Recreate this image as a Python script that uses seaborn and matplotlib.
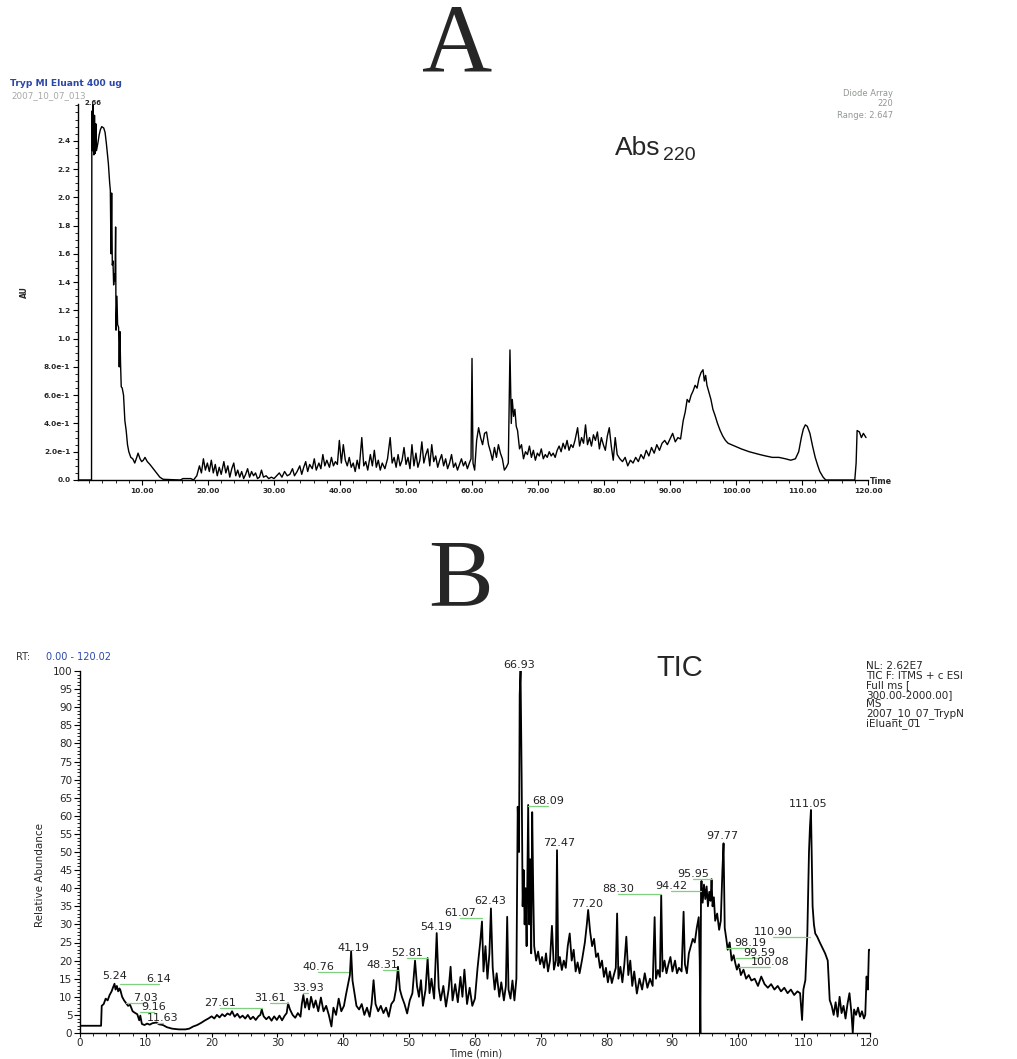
import matplotlib
matplotlib.use("Agg")
import numpy as np
import pandas as pd
import matplotlib.pyplot as plt
import seaborn as sns
from matplotlib.ticker import MultipleLocator, FixedLocator, FixedFormatter

# ---------------- data: UV trace (Abs 220) ----------------
a_time = [0.3, 2.35, 2.4, 2.5, 2.6, 2.7, 2.8, 2.9, 3.0, 3.1, 3.3, 3.5, 3.7, 3.9, 4.2, 4.4, 4.6, 4.9,
          5.1, 5.2, 5.3, 5.4, 5.5, 5.6, 5.7, 5.8, 5.9, 6.0, 6.06, 6.2, 6.3, 6.45, 6.55, 6.65, 6.75,
          6.85, 7.0, 7.2, 7.4, 7.6, 7.8, 8.0, 8.3, 8.6, 8.9, 9.2, 9.4, 9.7, 9.95, 10.2, 10.45, 10.8,
          11.2, 11.7, 12.2, 12.7, 13.2, 15.8, 16.2, 17.4, 17.8, 18.3, 18.7, 19.0, 19.3, 19.6, 19.9,
          20.2, 20.5, 20.8, 21.1, 21.4, 21.7, 22.0, 22.4, 22.7, 23.0, 23.3, 23.6, 23.9, 24.2, 24.5,
          24.8, 25.1, 25.4, 25.7, 26.0, 26.3, 26.6, 26.9, 27.2, 27.5, 27.8, 28.1, 28.4, 28.8, 29.2,
          29.6, 30.0, 30.4, 30.8, 31.2, 31.6, 32.0, 32.4, 32.8, 33.1, 33.5, 33.9, 34.2, 34.5, 34.8,
          35.1, 35.4, 35.8, 36.1, 36.4, 36.8, 37.1, 37.4, 37.7, 38.0, 38.4, 38.7, 39.0, 39.3, 39.6,
          39.9, 40.2, 40.5, 40.8, 41.1, 41.4, 41.7, 42.0, 42.3, 42.6, 42.9, 43.3, 43.6, 43.9, 44.2,
          44.6, 44.9, 45.2, 45.5, 45.8, 46.1, 46.4, 46.8, 47.2, 47.6, 47.9, 48.2, 48.5, 48.8, 49.1,
          49.4, 49.7, 50.0, 50.3, 50.6, 50.9, 51.2, 51.5, 51.8, 52.1, 52.4, 52.7, 53.0, 53.3, 53.6,
          53.9, 54.2, 54.5, 54.8, 55.1, 55.4, 55.7, 56.0, 56.3, 56.6, 56.9, 57.2, 57.5, 57.8, 58.1,
          58.4, 58.7, 59.0, 59.3, 59.6, 59.85, 60.0, 60.15, 60.4, 60.7, 61.0, 61.3, 61.6, 61.9, 62.2,
          62.5, 62.8, 63.1, 63.4, 63.7, 64.0, 64.3, 64.6, 64.9, 65.2, 65.5, 65.75, 65.95, 66.1, 66.3,
          66.5, 66.7, 66.9, 67.2, 67.5, 67.8, 68.1, 68.4, 68.7, 69.0, 69.3, 69.6, 69.9, 70.2, 70.5,
          70.8, 71.1, 71.4, 71.7, 72.0, 72.3, 72.6, 72.9, 73.2, 73.5, 73.8, 74.1, 74.4, 74.7, 75.0,
          75.3, 75.6, 76.0, 76.3, 76.6, 76.9, 77.2, 77.5, 77.8, 78.1, 78.4, 78.7, 79.0, 79.3, 79.6,
          79.9, 80.2, 80.5, 80.8, 81.1, 81.4, 81.7, 82.0, 82.4, 82.8, 83.2, 83.6, 84.0, 84.4, 84.8,
          85.2, 85.6, 86.0, 86.4, 86.8, 87.2, 87.6, 88.0, 88.4, 88.8, 89.2, 89.6, 90.0, 90.4, 90.8,
          91.2, 91.6, 92.0, 92.3, 92.6, 92.9, 93.2, 93.5, 93.8, 94.1, 94.4, 94.7, 95.0, 95.2, 95.4,
          95.6, 95.9, 96.2, 96.5, 96.8, 97.2, 97.6, 98.0, 98.4, 98.8, 99.3, 99.8, 100.3, 100.8,
          101.4, 102.0, 102.8, 103.6, 104.5, 105.5, 106.5, 107.5, 108.3, 109.0, 109.5, 109.9, 110.2,
          110.5, 110.8, 111.2, 111.6, 112.0, 112.4, 112.7, 113.2, 113.6, 118.0, 118.2, 118.35, 118.7,
          119.0, 119.3, 119.7]
a_abs = [0.0, 0.0, 2.61, 2.33, 2.66, 2.30, 2.58, 2.31, 2.52, 2.33, 2.38, 2.44, 2.48, 2.50, 2.49, 2.46,
         2.38, 2.24, 2.10, 2.05, 1.60, 2.03, 1.52, 1.55, 1.38, 1.46, 1.41, 1.79, 1.06, 1.30, 1.10,
         1.08, 0.80, 1.05, 0.82, 0.66, 0.65, 0.60, 0.42, 0.35, 0.25, 0.20, 0.16, 0.15, 0.12, 0.16,
         0.19, 0.15, 0.13, 0.14, 0.16, 0.13, 0.11, 0.08, 0.05, 0.02, 0.005, 0.0, 0.01, 0.01, 0.0,
         0.03, 0.10, 0.05, 0.15, 0.07, 0.12, 0.06, 0.14, 0.05, 0.11, 0.03, 0.09, 0.04, 0.13, 0.05,
         0.10, 0.02, 0.08, 0.12, 0.03, 0.07, 0.02, 0.06, 0.01, 0.04, 0.08, 0.02, 0.06, 0.03, 0.05,
         0.01, 0.02, 0.07, 0.02, 0.03, 0.01, 0.02, 0.01, 0.03, 0.05, 0.02, 0.06, 0.03, 0.04, 0.08,
         0.03, 0.06, 0.10, 0.04, 0.09, 0.13, 0.06, 0.11, 0.08, 0.15, 0.07, 0.12, 0.08, 0.18, 0.10,
         0.14, 0.09, 0.16, 0.10, 0.13, 0.11, 0.28, 0.12, 0.25, 0.14, 0.10, 0.16, 0.09, 0.12, 0.06,
         0.14, 0.08, 0.30, 0.10, 0.13, 0.07, 0.18, 0.10, 0.21, 0.09, 0.14, 0.07, 0.12, 0.08, 0.15,
         0.30, 0.12, 0.16, 0.09, 0.18, 0.10, 0.14, 0.23, 0.11, 0.16, 0.08, 0.25, 0.10, 0.19, 0.09,
         0.14, 0.27, 0.12, 0.18, 0.22, 0.10, 0.25, 0.13, 0.17, 0.09, 0.14, 0.18, 0.10, 0.15, 0.08,
         0.12, 0.18, 0.09, 0.12, 0.07, 0.11, 0.15, 0.10, 0.13, 0.08, 0.12, 0.15, 0.86, 0.12, 0.07,
         0.28, 0.37, 0.30, 0.25, 0.33, 0.34, 0.25, 0.20, 0.14, 0.23, 0.16, 0.25, 0.19, 0.15, 0.07,
         0.09, 0.12, 0.92, 0.40, 0.57, 0.45, 0.50, 0.38, 0.35, 0.22, 0.25, 0.15, 0.20, 0.18, 0.24,
         0.16, 0.21, 0.14, 0.19, 0.17, 0.22, 0.15, 0.18, 0.16, 0.20, 0.17, 0.19, 0.16, 0.21, 0.24,
         0.20, 0.26, 0.22, 0.28, 0.21, 0.25, 0.23, 0.28, 0.37, 0.24, 0.30, 0.26, 0.39, 0.25, 0.30,
         0.24, 0.32, 0.28, 0.34, 0.22, 0.30, 0.25, 0.21, 0.31, 0.37, 0.24, 0.14, 0.30, 0.18, 0.15,
         0.13, 0.16, 0.10, 0.14, 0.12, 0.16, 0.13, 0.18, 0.15, 0.21, 0.17, 0.23, 0.19, 0.25, 0.21,
         0.26, 0.28, 0.25, 0.29, 0.33, 0.27, 0.30, 0.29, 0.42, 0.48, 0.57, 0.55, 0.60, 0.63, 0.67,
         0.65, 0.72, 0.76, 0.78, 0.70, 0.74, 0.67, 0.62, 0.57, 0.50, 0.46, 0.40, 0.35, 0.31, 0.28,
         0.26, 0.25, 0.24, 0.23, 0.22, 0.21, 0.20, 0.19, 0.18, 0.17, 0.16, 0.16, 0.15, 0.14, 0.15,
         0.20, 0.30, 0.36, 0.39, 0.38, 0.33, 0.24, 0.16, 0.10, 0.06, 0.02, 0.0, 0.0, 0.12, 0.35,
         0.34, 0.30, 0.33, 0.30]

a_ytick_vals = [0.0, 0.2, 0.4, 0.6, 0.8, 1.0, 1.2, 1.4, 1.6, 1.8, 2.0, 2.2, 2.4]
a_ytick_text = ["0.0", "2.0e-1", "4.0e-1", "6.0e-1", "8.0e-1", "1.0", "1.2", "1.4", "1.6",
                "1.8", "2.0", "2.2", "2.4"]
a_xtick_vals = [10, 20, 30, 40, 50, 60, 70, 80, 90, 100, 110, 120]
a_xtick_text = ["10.00", "20.00", "30.00", "40.00", "50.00", "60.00", "70.00", "80.00",
                "90.00", "100.00", "110.00", "120.00"]

# ---------------- data: total ion current ----------------
b_time = [0.0, 3.0, 3.2, 3.3, 3.6, 3.9, 4.2, 4.5, 4.8, 5.0, 5.24, 5.4, 5.6, 5.8, 6.0, 6.14, 6.4,
          6.7, 7.03, 7.3, 7.6, 8.0, 8.4, 8.7, 9.0, 9.16, 9.4, 9.8, 10.2, 10.6, 11.0, 11.63, 12.0,
          12.6, 13.2, 14.0, 15.0, 16.0, 16.6, 17.2, 17.8, 18.4, 19.0, 19.5, 20.0, 20.4, 20.8, 21.2,
          21.6, 22.0, 22.4, 22.8, 23.1, 23.5, 23.9, 24.3, 24.7, 25.1, 25.5, 25.9, 26.3, 26.7, 27.1,
          27.4, 27.61, 27.9, 28.3, 28.7, 29.1, 29.5, 29.9, 30.3, 30.7, 31.1, 31.4, 31.61, 31.9,
          32.3, 32.7, 33.1, 33.5, 33.7, 33.93, 34.2, 34.5, 34.8, 35.1, 35.5, 35.8, 36.2, 36.6, 37.0,
          37.4, 37.8, 38.2, 38.5, 38.9, 39.3, 39.7, 40.1, 40.4, 40.76, 41.0, 41.19, 41.4, 41.7, 42.0,
          42.4, 42.8, 43.2, 43.6, 44.0, 44.3, 44.6, 44.9, 45.3, 45.7, 46.1, 46.5, 46.9, 47.3, 47.7,
          48.0, 48.31, 48.6, 48.9, 49.3, 49.7, 50.1, 50.5, 50.9, 51.2, 51.5, 51.8, 52.1, 52.5,
          52.81, 53.1, 53.4, 53.8, 54.19, 54.5, 54.8, 55.2, 55.6, 56.0, 56.3, 56.6, 57.0, 57.4,
          57.8, 58.1, 58.4, 58.8, 59.2, 59.6, 60.0, 60.4, 60.8, 61.07, 61.3, 61.6, 61.9, 62.2,
          62.43, 62.7, 63.0, 63.3, 63.7, 64.0, 64.4, 64.7, 64.9, 65.1, 65.4, 65.7, 66.0, 66.3,
          66.5, 66.7, 66.8, 66.93, 67.1, 67.25, 67.4, 67.55, 67.7, 67.85, 68.09, 68.25, 68.4, 68.55,
          68.7, 68.85, 69.0, 69.3, 69.6, 69.9, 70.2, 70.5, 70.8, 71.1, 71.4, 71.7, 72.0, 72.3,
          72.47, 72.65, 72.9, 73.2, 73.5, 73.8, 74.1, 74.4, 74.7, 75.0, 75.3, 75.6, 75.9, 76.3,
          76.7, 77.0, 77.2, 77.5, 77.8, 78.1, 78.4, 78.7, 79.0, 79.3, 79.6, 79.9, 80.2, 80.5, 80.8,
          81.1, 81.4, 81.6, 81.8, 82.1, 82.4, 82.7, 83.0, 83.3, 83.6, 83.9, 84.2, 84.6, 85.0, 85.4,
          85.8, 86.2, 86.6, 87.0, 87.3, 87.5, 87.8, 88.1, 88.3, 88.5, 88.8, 89.1, 89.4, 89.7, 90.0,
          90.4, 90.7, 91.0, 91.4, 91.7, 91.9, 92.2, 92.5, 92.8, 93.1, 93.4, 93.7, 94.0, 94.15,
          94.25, 94.35, 94.42, 94.6, 94.8, 95.0, 95.2, 95.4, 95.6, 95.8, 95.95, 96.1, 96.3, 96.5,
          96.8, 97.1, 97.35, 97.6, 97.77, 97.95, 98.19, 98.4, 98.7, 99.0, 99.3, 99.59, 99.8,
          100.08, 100.4, 100.8, 101.2, 101.6, 102.0, 102.5, 103.0, 103.5, 104.0, 104.5, 105.0,
          105.5, 106.0, 106.5, 107.0, 107.5, 108.0, 108.5, 109.0, 109.4, 109.7, 109.9, 110.2,
          110.5, 110.75, 110.9, 111.05, 111.3, 111.5, 111.7, 112.0, 112.4, 112.8, 113.2, 113.6,
          113.9, 114.2, 114.5, 114.8, 115.1, 115.4, 115.7, 116.0, 116.3, 116.6, 116.9, 117.2,
          117.4, 117.6, 117.9, 118.2, 118.5, 118.8, 119.1, 119.3, 119.5, 119.7, 119.85, 120.0]
b_rel = [2.0, 2.0, 2.0, 7.5, 8.0, 9.5, 9.0, 10.5, 11.5, 12.5, 13.6, 12.0, 13.0, 11.5, 12.3, 11.8,
         10.0, 9.0, 8.2, 7.5, 7.8, 6.0, 5.5, 5.2, 3.5, 4.8, 2.5, 2.2, 2.6, 2.3, 2.7, 2.9, 2.4, 2.2,
         1.6, 1.2, 1.0, 1.0, 1.2, 1.8, 2.2, 2.8, 3.5, 4.0, 4.6, 4.0, 5.0, 4.3, 5.2, 4.6, 5.4, 5.0,
         6.0, 4.5, 5.3, 4.2, 4.8, 4.0, 5.0, 3.8, 4.5, 3.6, 4.6, 5.0, 6.5, 4.6, 3.8, 4.5, 3.4, 4.6,
         3.6, 4.8, 3.5, 4.8, 5.5, 8.2, 6.5, 5.0, 4.2, 5.5, 4.5, 8.0, 10.5, 7.0, 9.5, 6.5, 10.0, 7.0,
         9.0, 6.0, 9.8, 6.0, 7.5, 5.0, 1.8, 7.0, 5.0, 9.5, 6.0, 7.5, 10.5, 13.8, 16.0, 22.6, 14.5,
         11.0, 7.5, 6.5, 8.0, 5.0, 7.0, 4.5, 8.0, 14.6, 8.0, 6.0, 7.5, 5.5, 7.0, 4.5, 8.0, 9.0,
         12.0, 18.3, 12.0, 10.0, 8.0, 5.4, 9.0, 11.0, 20.0, 13.0, 10.0, 14.6, 7.5, 12.0, 20.7,
         11.0, 15.0, 9.5, 27.6, 12.5, 9.0, 13.0, 7.3, 12.0, 18.3, 9.0, 13.5, 8.5, 15.5, 10.0,
         17.5, 8.0, 12.5, 7.5, 9.5, 18.0, 25.0, 30.8, 17.0, 24.0, 15.0, 22.0, 34.4, 18.0, 12.0,
         16.5, 10.0, 14.0, 9.0, 13.0, 32.1, 12.0, 9.5, 14.5, 9.0, 15.0, 62.5, 50.0, 93.5, 100.0,
         70.0, 35.0, 45.0, 30.0, 40.0, 24.0, 63.0, 30.0, 48.0, 22.0, 61.0, 40.0, 24.0, 20.0, 22.5,
         19.0, 21.0, 18.0, 22.0, 17.0, 20.0, 29.6, 17.5, 20.0, 50.5, 18.5, 21.0, 17.4, 20.0, 18.0,
         24.0, 27.5, 20.0, 23.0, 17.0, 19.5, 16.5, 20.5, 25.0, 30.0, 34.0, 28.0, 24.0, 26.0, 21.0,
         22.0, 18.0, 20.0, 15.5, 18.0, 14.0, 17.0, 13.8, 16.0, 18.0, 33.0, 15.0, 18.3, 14.0, 19.0,
         26.6, 16.0, 20.0, 13.0, 17.0, 10.9, 15.0, 12.0, 16.5, 12.5, 15.0, 13.0, 32.0, 15.0, 17.4,
         15.5, 38.1, 17.0, 20.0, 16.5, 19.0, 21.0, 17.0, 20.0, 16.5, 18.0, 17.0, 33.5, 19.0, 16.5,
         22.0, 24.0, 26.0, 25.0, 29.0, 32.0, 20.0, 0.0, 40.0, 42.0, 36.0, 41.0, 37.0, 40.5, 35.0,
         39.0, 36.5, 42.5, 35.0, 37.5, 31.0, 33.0, 28.5, 31.0, 45.0, 52.4, 29.0, 26.0, 23.0, 25.0,
         20.0, 21.5, 19.0, 17.5, 19.0, 16.0, 17.5, 15.0, 16.0, 14.5, 15.0, 13.0, 15.6, 13.5, 12.5,
         13.5, 12.0, 13.0, 11.5, 12.5, 11.0, 12.0, 10.5, 11.5, 11.0, 3.6, 12.0, 14.6, 27.5, 50.0,
         57.0, 61.6, 35.0, 30.0, 27.5, 26.6, 25.0, 23.5, 22.0, 20.0, 9.1, 7.5, 5.0, 8.5, 4.5, 10.0,
         5.5, 7.5, 4.0, 8.0, 11.0, 5.5, 0.0, 6.5, 5.0, 7.0, 4.5, 6.0, 4.0, 5.0, 15.6, 12.0, 23.0,
         23.0]

# labelled retention times (minutes) on the TIC trace
peak_rt = [5.24, 6.14, 7.03, 9.16, 11.63, 27.61, 31.61, 33.93, 40.76, 41.19, 48.31, 52.81,
           54.19, 61.07, 62.43, 66.93, 68.09, 72.47, 77.20, 88.30, 94.42, 95.95, 97.77, 98.19,
           99.59, 100.08, 110.90, 111.05]
peak_text = ["5.24", "6.14", "7.03", "9.16", "11.63", "27.61", "31.61", "33.93", "40.76",
             "41.19", "48.31", "52.81", "54.19", "61.07", "62.43", "66.93", "68.09", "72.47",
             "77.20", "88.30", "94.42", "95.95", "97.77", "98.19", "99.59", "100.08", "110.90",
             "111.05"]

# label placement: text centre x (min) and text centre y (%)
lab_x = [5.2, 12.0, 10.0, 11.2, 12.6, 21.3, 28.9, 34.6, 36.2, 41.5, 46.0, 49.7, 54.1, 57.8,
         62.3, 66.7, 71.1, 72.8, 77.1, 81.8, 89.8, 93.2, 97.6, 101.8, 103.2, 104.9, 105.3, 110.6]
lab_y = [15.8, 14.8, 9.6, 7.1, 4.1, 8.2, 9.6, 12.4, 18.2, 23.4, 18.7, 22.0, 29.2, 33.1, 36.4,
         101.6, 64.0, 52.4, 35.6, 39.7, 40.5, 43.8, 54.3, 24.8, 22.0, 19.5, 27.8, 63.2]

header_b = ["NL: 2.62E7", "TIC F: ITMS + c ESI", "Full ms [", "300.00-2000.00]", "MS",
            "2007_10_07_TrypN", "iEluant_01"]

# ---------------- figure ----------------
sns.set_theme(style="ticks")
plt.rcParams["font.family"] = ["DejaVu Sans"]

W, H = 1017, 1059
fig = plt.figure(figsize=(W / 100, H / 100), dpi=100)
fig.patch.set_facecolor("white")


def fx(px):
    return px / W


def fy(py):
    return 1 - py / H


# panel letters
fig.text(fx(457), fy(47), "A", fontsize=70, family="Liberation Serif", ha="center", va="center")
fig.text(fx(461), fy(583), "B", fontsize=70, family="Liberation Serif", ha="center", va="center")

# ---------------- panel A ----------------
axA = fig.add_axes([fx(78), fy(480), (868 - 78) / W, (480 - 104) / H])
dfA = pd.DataFrame({"time": a_time, "abs": a_abs})
sns.lineplot(data=dfA, x="time", y="abs", ax=axA, color="black", lw=1.0,
             estimator=None, sort=False, errorbar=None)
axA.set_xlim(0.3, 120)
axA.set_ylim(0, 2.66)
axA.set_xlabel("")
axA.set_ylabel("")
sns.despine(ax=axA)
for sp in ("left", "bottom"):
    axA.spines[sp].set_linewidth(1.0)
    axA.spines[sp].set_color("black")
axA.xaxis.set_major_locator(FixedLocator(a_xtick_vals))
axA.xaxis.set_major_formatter(FixedFormatter(a_xtick_text))
axA.xaxis.set_minor_locator(MultipleLocator(2))
axA.yaxis.set_major_locator(FixedLocator(a_ytick_vals))
axA.yaxis.set_major_formatter(FixedFormatter(a_ytick_text))
axA.yaxis.set_minor_locator(MultipleLocator(0.05))
axA.tick_params(which="major", length=3.5, width=0.8, labelsize=5.3, pad=2, color="black")
axA.tick_params(which="minor", length=2, width=0.6, color="black")
for lab in axA.get_xticklabels() + axA.get_yticklabels():
    lab.set_fontweight("bold")

fig.text(fx(10), fy(83), "Tryp Ml Eluant 400 ug", fontsize=6.6, color="#2b48a8",
         fontweight="bold", va="center")
fig.text(fx(11), fy(96), "2007_10_07_013", fontsize=6.3, color="#a8a8a8", va="center")
fig.text(fx(93), fy(103), "2.66", fontsize=5, fontweight="bold", ha="center", va="center")
fig.text(fx(893), fy(93), "Diode Array", fontsize=6, color="#909890", ha="right", va="center")
fig.text(fx(893), fy(104), "220", fontsize=6, color="#909890", ha="right", va="center")
fig.text(fx(893), fy(115), "Range: 2.647", fontsize=6, color="#909890", ha="right", va="center")
fig.text(fx(24), fy(292), "AU", fontsize=5.5, fontweight="bold", rotation=90,
         ha="center", va="center")
fig.text(fx(870), fy(481), "Time", fontsize=5.8, fontweight="bold", ha="left", va="center")
fig.text(fx(615), fy(148), "Abs", fontsize=19, family="Liberation Sans", ha="left", va="center")
fig.text(fx(663), fy(155), "220", fontsize=14, family="Liberation Sans", ha="left", va="center")

# ---------------- panel B ----------------
axB = fig.add_axes([fx(80), fy(1033), (870 - 80) / W, (1033 - 671) / H])
dfB = pd.DataFrame({"time": b_time, "rel": b_rel})
sns.lineplot(data=dfB, x="time", y="rel", ax=axB, color="black", lw=1.3,
             estimator=None, sort=False, errorbar=None)
axB.set_xlim(0, 120.02)
axB.set_ylim(0, 100)
axB.set_xlabel("")
axB.set_ylabel("")
sns.despine(ax=axB)
for sp in ("left", "bottom"):
    axB.spines[sp].set_linewidth(1.0)
    axB.spines[sp].set_color("black")
axB.xaxis.set_major_locator(MultipleLocator(10))
axB.xaxis.set_minor_locator(MultipleLocator(2))
axB.yaxis.set_major_locator(MultipleLocator(5))
axB.yaxis.set_minor_locator(MultipleLocator(1))
axB.tick_params(which="major", length=4, width=0.8, labelsize=7.5, pad=1.5, color="black")
axB.tick_params(which="minor", length=2.5, width=0.6, color="black")
axB.tick_params(axis="x", which="major", length=3, pad=0.8)
axB.tick_params(axis="x", which="minor", length=2)

fig.text(fx(476), fy(1054), "Time (min)", fontsize=7, ha="center", va="center")
fig.text(fx(40), fy(875), "Relative Abundance", fontsize=7.5, rotation=90,
         ha="center", va="center")

# peak annotations with green leader lines
for rt, txt, lx, ly in zip(peak_rt, peak_text, lab_x, lab_y):
    axB.text(lx, ly, txt, fontsize=8, ha="center", va="center", color="#222222",
             clip_on=False)
    if abs(lx - rt) > 0.6:
        axB.plot([rt, lx], [ly - 1.3, ly - 1.3], color="#7fd07f", lw=0.9, clip_on=False)

fig.text(fx(16), fy(657), "RT:", fontsize=7, color="#333333", va="center")
fig.text(fx(46), fy(657), "0.00 - 120.02", fontsize=7, color="#2b48a8", va="center")
fig.text(fx(656), fy(668), "TIC", fontsize=21, family="Liberation Sans", ha="left", va="center")
for i, line in enumerate(header_b):
    fig.text(fx(866), fy(666 + i * 9.6), line, fontsize=7.5, ha="left", va="center")

fig.savefig("out.png", dpi=100, facecolor="white")
